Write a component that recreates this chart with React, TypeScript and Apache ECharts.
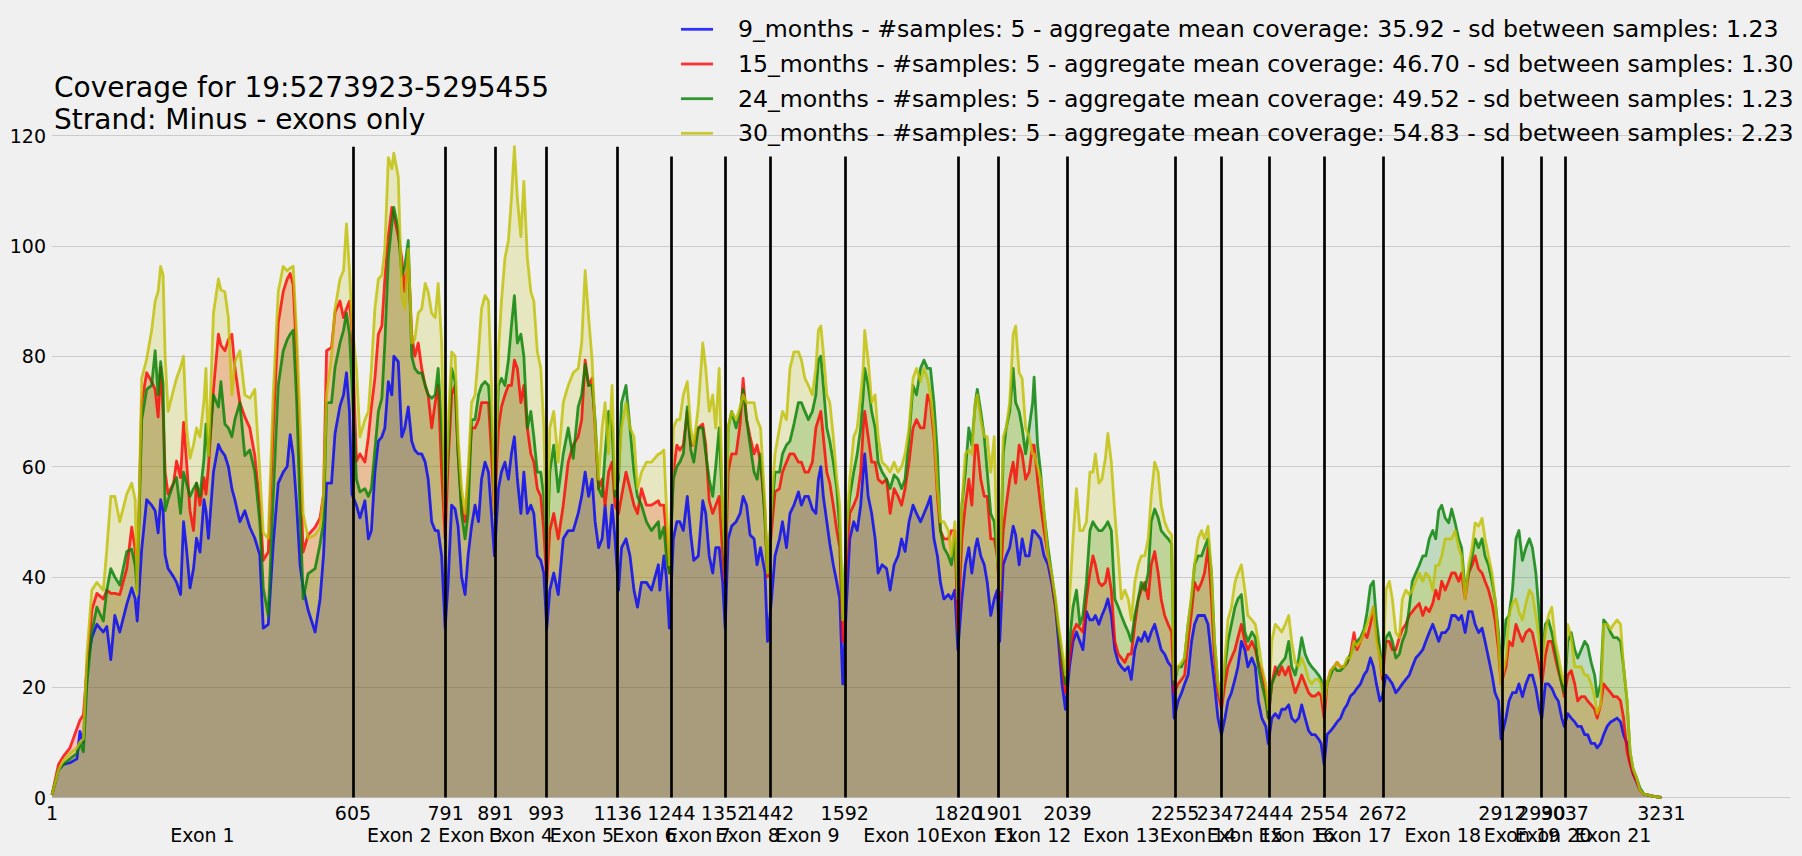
import React, { useEffect, useRef } from "react";
import * as echarts from "echarts";

// x positions (bp within the concatenated exons)
const positions: number[] = [
  1, 14, 24, 37, 51, 57, 64, 71, 81, 91, 104, 111, 119, 127, 137, 151, 161, 168, 172, 181,
  191, 201, 208, 214, 219, 224, 228, 234, 245, 251, 259, 265, 271, 278, 285, 291, 298, 306, 310, 315,
  325, 335, 340, 348, 355, 362, 368, 378, 388, 398, 408, 418, 425, 435, 445, 455, 465, 473, 479, 485,
  492, 499, 505, 515, 529, 539, 546, 552, 562, 569, 579, 586, 592, 598, 603,
  612, 619, 629, 636, 642, 649, 656, 663, 669, 676, 683, 687, 696, 703, 709, 716, 723, 729, 736, 743,
  750, 756, 763, 770, 776, 783, 790, 796, 803, 810, 816, 823, 830, 836, 843, 850, 857, 863, 870, 877,
  883, 889, 897, 903, 910, 917, 923, 929, 935, 942, 948, 955, 962, 968, 975, 982, 988, 994, 1000, 1008,
  1017, 1027, 1037, 1047, 1057, 1064, 1071, 1078, 1085, 1091, 1098, 1105, 1111, 1118, 1125, 1131, 1138, 1144, 1153, 1161,
  1169, 1176, 1184, 1194, 1204, 1218,
  1221, 1229, 1234, 1240, 1248, 1255, 1261, 1268, 1276, 1283, 1289, 1298, 1307, 1313, 1320, 1327, 1333, 1340, 1347, 1352,
  1358, 1365, 1374, 1382, 1388, 1395, 1402, 1410, 1416, 1423, 1432, 1437, 1445, 1452, 1461, 1467, 1475, 1482, 1490, 1499,
  1505, 1512, 1519, 1527, 1534, 1539, 1544, 1549, 1556, 1562, 1569, 1576, 1582, 1588, 1596, 1602, 1610, 1617, 1624, 1629,
  1632, 1639, 1646, 1653, 1659, 1667, 1676, 1683, 1691, 1699, 1706, 1713, 1721, 1729, 1736, 1744, 1751, 1758, 1764, 1771,
  1778, 1784, 1791, 1800, 1806,
  1813, 1819, 1827, 1834, 1841, 1847, 1854, 1858, 1865, 1872, 1878, 1885, 1892, 1898, 1903, 1910, 1916, 1923, 1930, 1935,
  1942, 1948, 1955, 1962, 1969, 1972, 1979, 1985, 1992, 2000, 2007, 2015, 2021, 2028, 2035, 2043, 2050, 2057, 2064, 2070,
  2077, 2084, 2090, 2095, 2102, 2108, 2115, 2120, 2127, 2134, 2141, 2147, 2154, 2161, 2167, 2174, 2181, 2187, 2194, 2201,
  2207, 2214, 2221, 2227, 2234, 2241, 2248, 2253, 2261, 2268, 2274, 2281, 2288, 2294, 2301, 2308, 2314, 2321, 2328, 2334,
  2341, 2348, 2355, 2361, 2368, 2375, 2381, 2388, 2395, 2401,
  2409, 2416, 2422, 2429, 2437, 2442, 2449, 2456, 2463, 2469, 2476, 2483, 2489, 2496, 2503, 2509, 2516, 2523, 2529, 2536,
  2543, 2548, 2554, 2560, 2567, 2574, 2580, 2587, 2594, 2600, 2607, 2614, 2620, 2627, 2634, 2640, 2647, 2653, 2659, 2666,
  2671, 2678, 2685, 2691, 2698, 2705, 2711, 2718, 2725, 2731, 2738, 2745, 2752, 2758, 2765, 2772, 2778, 2784, 2790, 2797,
  2804, 2810, 2817, 2824, 2830, 2837, 2844, 2851, 2857, 2864, 2871, 2877, 2884, 2891, 2897, 2904, 2909,
  2919, 2925, 2932, 2939, 2945, 2952, 2959, 2966, 2972, 2979, 2986, 2991, 2998, 3004, 3011, 3018, 3024, 3031, 3036, 3043,
  3050, 3057, 3063, 3070, 3077, 3083, 3090, 3097, 3102, 3109, 3115, 3122, 3129, 3135, 3142, 3149, 3155, 3162, 3168, 3174,
  3181, 3188, 3196, 3216, 3231,
];

const months9: number[] = [
  0.5, 5, 6, 6.3, 7, 12, 10, 24, 29, 31.4, 30, 31, 25, 33, 30, 35, 38, 36, 32, 45,
  54, 53, 52, 48, 54, 52, 44, 41.5, 40, 39, 36.8, 50, 45, 38, 41.5, 47, 44.5, 54, 52, 47,
  59, 64, 63, 62, 60, 56, 54, 50, 52, 49, 47, 44, 30.7, 31.4, 46, 57, 59, 60, 65.8, 62,
  53, 42, 38, 34, 30, 36, 44, 57, 57, 66, 71, 73, 77, 70, 55,
  53, 50.7, 53.8, 46.9, 48.4, 59, 64.6, 65.4, 67, 75.4, 73, 80, 79, 65.4, 67, 70.8, 64.6, 63, 62.3, 62.3,
  60.8, 57.7, 50, 48.4, 48.4, 43.8, 30.7, 39, 53, 52.3, 49.2, 40, 36.8, 43.8, 49.2, 53, 50, 57.7, 60.8, 59,
  51.5, 43.8, 56, 59, 60.8, 57.7, 62.3, 65.4, 57.7, 51.5, 59, 51.5, 53, 51.5, 43.8, 43, 40.7, 30.7, 37.6, 40.7,
  36.8, 46.9, 48.4, 48.4, 51.5, 54.6, 59, 54.6, 57.7, 50, 45.3, 46.9, 53, 45.3, 53, 46.9, 37.6, 45.3, 46.9, 43.8,
  37.6, 34.5, 39, 39, 37.6, 42.2,
  37.6, 43.8, 40, 30.7, 46.9, 50, 50, 48.4, 54.6, 47.6, 43, 43.8, 53.8, 51.5, 43.8, 40.7, 45.3, 45.3, 39, 30.7,
  46.9, 49.2, 50, 51.5, 54.6, 53, 47.6, 46.9, 42.2, 45.3, 40.7, 28.3, 36, 43.8, 46.9, 50, 45.3, 51.5, 53, 55.4,
  53, 54.6, 54.6, 52.3, 51.5, 57.7, 60, 54.6, 50, 46, 42.2, 39, 36, 20.6, 36, 46.9, 50, 48.4, 53, 59,
  62.3, 54.6, 51.5, 46.9, 40.7, 42.2, 41.5, 37.6, 42.2, 43.8, 46.9, 44.6, 50, 53, 51.5, 50, 51.5, 53, 54.6, 46.9,
  43.8, 39, 36, 36.8, 36,
  37.6, 26.8, 36, 42.2, 45.3, 40.7, 45.3, 46.9, 43.8, 42.2, 39, 33, 36, 37.6, 28.3, 42.2, 43.8, 45.3, 49.2, 47.6,
  42.2, 46.9, 43.8, 43.8, 48.4, 48.4, 47.6, 46.9, 43.8, 42.2, 39, 34.5, 28.3, 20.6, 16, 23.7, 28.3, 30, 28.3, 26.8,
  33.7, 32.2, 32.2, 33, 31.4, 33, 34.5, 36, 33, 26.8, 24.5, 23.7, 23, 23.7, 21.4, 26.8, 29, 28.3, 30, 28.3,
  30, 31.4, 29, 26.8, 26, 24.5, 23.7, 14.4, 17.5, 19, 20.6, 22.2, 28.3, 31.4, 33, 33, 33, 31.4, 25.3, 20.6,
  14.4, 11.4, 14.4, 17.5, 19, 21.4, 23.7, 28.3, 26.8, 23.7,
  25.3, 23.7, 17.5, 14.4, 12.9, 9.8, 14.4, 15.2, 14.4, 16, 16, 16.8, 14.4, 13.7, 14.4, 16.8, 14.4, 12.1, 11.4, 11.4,
  10.6, 9.8, 6, 11.4, 12.1, 12.9, 13.7, 14.4, 16, 16.8, 18.4, 19, 19.8, 20.6, 22.2, 23, 25.3, 23.7, 20.6, 17.5,
  18.4, 22.2, 21.4, 20.6, 19, 19.8, 20.6, 21.4, 22.2, 23.7, 25.3, 26, 26.8, 28.3, 29.9, 31.4, 29.9, 28.3, 29.9, 29.9,
  30.7, 33, 33, 32.2, 33, 29.9, 33.7, 33.7, 31.4, 29.9, 30.7, 28.3, 25.3, 22.2, 19, 17.5, 10.6,
  14.4, 17.5, 19, 19, 20.6, 18.3, 20.6, 22.2, 22.2, 19.8, 16, 14.4, 20.6, 20.6, 19.8, 18.3, 17.5, 14.4, 12.9, 15.2,
  14.4, 13.7, 12.9, 12.9, 11.4, 11.4, 9.8, 9.8, 9, 9.8, 11.4, 12.9, 13.7, 14, 14.4, 13.7, 11.4, 9.8, 6.7, 4.3,
  2.9, 1.3, 0.6, 0.2, 0,
];

const months15: number[] = [
  0.5, 6, 7.5, 9, 12.5, 14, 15, 23, 34, 37, 36, 37.6, 37, 37, 36.8, 41.5, 49, 45, 39, 71.6,
  77, 75.4, 74, 69, 78, 70, 59, 55, 57, 61, 58, 68, 61, 52, 48.4, 57, 53, 58, 55, 60,
  74, 84, 82, 81, 83, 84, 78, 71.6, 69, 67, 62, 53, 43, 44.5, 67, 86, 91.7, 94, 95, 93,
  80, 60, 44.5, 47.6, 49, 50.7, 55, 81, 81.6, 88, 90, 87, 88.6, 90, 85,
  61, 62.3, 60.8, 65.4, 70.8, 76, 84, 85.5, 94, 101.7, 107, 105.6, 101.7, 97.8, 91.7, 97.8, 84, 80, 82.4, 77.8,
  74.7, 73, 67, 71.6, 74.7, 59, 46.9, 60.8, 73, 74.7, 62.3, 53, 50, 57.7, 67, 67, 68.5, 71.6, 71.6, 71.6,
  62.3, 51.5, 67, 70.8, 73, 74.7, 74.7, 79.3, 77.8, 71.6, 74.7, 67, 62.3, 60.8, 56, 54.6, 48.4, 39, 48.4, 51.5,
  46.9, 53, 60.8, 63.9, 65.4, 68.5, 79.3, 74.7, 76, 67, 56, 57.7, 53, 59, 60.8, 53, 51.5, 54.6, 59, 56,
  53, 51.5, 56, 53, 53, 53.8,
  53, 53, 47.6, 40.7, 59, 63.9, 63, 63.9, 70, 63.9, 63.9, 67, 67.7, 63.9, 53.8, 51.5, 53, 54.6, 43.8, 39,
  59, 62.3, 62.3, 67.7, 76, 68.5, 65.4, 62.3, 63.9, 60.8, 51.5, 40, 48.4, 55.4, 56, 59, 60.8, 62.3, 62.3, 60.8,
  60.8, 59, 59, 60.8, 67, 68.5, 70, 65.4, 59, 57, 53, 48.4, 45.3, 28.3, 43.8, 51.5, 53, 54.6, 59, 67,
  70, 65.4, 60.8, 60.8, 57.7, 57, 57.7, 51.5, 56, 54.6, 53, 56, 60.8, 67, 68.5, 67, 67, 73, 71.6, 65.4,
  54.6, 48.4, 46.9, 46.9, 48.4,
  48.4, 30, 46.9, 53, 57.7, 53, 63.9, 63.9, 57.7, 54.6, 54.6, 46.9, 46.9, 43.8, 36, 48.4, 53, 57.7, 60.8, 57,
  63.9, 62.3, 57.7, 59, 63.9, 63.9, 57.7, 53, 48.4, 43.8, 40, 34.5, 30, 23.7, 19, 25.3, 30, 31.4, 30.7, 30,
  36, 40.7, 43.8, 42.2, 39, 38.4, 39, 41.5, 37.6, 28.3, 26, 25.3, 24.5, 26, 26, 31.4, 36, 37.6, 39, 36,
  42.2, 44.6, 40.7, 36, 33, 31.4, 30, 19, 20.6, 21.4, 22.2, 28.3, 33.7, 39, 37.6, 39, 40.7, 45.3, 36, 25.3,
  19, 16, 20.6, 23.7, 25.3, 26.8, 29, 31.4, 28.3, 26.8,
  28.3, 26.8, 24.5, 23, 19, 14.4, 20.6, 23.7, 22.2, 23.7, 22.2, 23.7, 21.4, 19, 20.6, 22.2, 20.6, 19, 18.4, 18.4,
  19, 18.4, 14.4, 20.6, 23, 23.7, 24.5, 23.7, 23.7, 24.5, 26, 29.9, 26.8, 28.3, 29.9, 29, 31.4, 34.5, 29.9, 25.3,
  21.4, 28.3, 28.3, 26.8, 26.8, 29, 30.5, 31.4, 33, 33.7, 34.5, 35.2, 33, 34.5, 33.7, 35.2, 37.6, 36, 39.2, 37.6,
  39.2, 40.7, 40.7, 39.2, 40.7, 36, 40.7, 42.1, 43.8, 41.4, 40.7, 39.2, 37.6, 35.2, 32.2, 26.8, 20.6,
  23.7, 28.3, 27.5, 31.4, 29.9, 28.3, 29.9, 30.5, 29.9, 26.8, 23.7, 20.6, 25.8, 28.3, 28.3, 25.3, 23, 20.6, 18.3, 22.2,
  23, 20.6, 17.5, 18.3, 18.3, 17.5, 16.8, 16, 14.4, 16.8, 20.6, 19.8, 19, 18.3, 18.3, 17.5, 14.4, 8.3, 6, 4.3,
  2.9, 1.3, 0.6, 0.2, 0,
];

const months24: number[] = [
  0.5, 5, 6, 7, 8, 10, 8.3, 20.6, 30, 34.5, 32, 37.6, 41.5, 40, 38.5, 44.6, 45, 42, 37.6, 68.5,
  74, 74.7, 81, 73, 79, 75, 52, 54, 57, 58, 51.5, 59, 57, 54.6, 56, 57, 54.6, 61.5, 67.7, 62,
  73, 70.8, 75.4, 67.7, 67, 65.4, 68.5, 71.6, 62, 63, 59, 50, 38, 33, 54.6, 74.7, 81, 83, 84, 84.7,
  72, 52, 36, 40.6, 41.5, 46, 50, 71.6, 71.6, 78, 82.4, 84.7, 87.8, 84, 75,
  57.7, 55.4, 56, 54.6, 56, 63, 70, 72.4, 82.4, 97.8, 104, 107, 103, 94.7, 96.3, 101, 80, 77.8, 77, 77,
  74.7, 73, 72.4, 73, 77.8, 67, 53, 63, 77.8, 75.4, 62.3, 51.5, 46.9, 51.5, 68.5, 68.5, 73, 74.7, 75.4, 74.7,
  67, 55.4, 74.7, 76, 74.7, 79.3, 85.5, 91, 82.4, 84, 80, 67, 70, 65.4, 59, 59, 54.6, 43.8, 59, 63.9,
  55.4, 62.3, 67, 61.5, 70.8, 73, 78.5, 74.7, 74.7, 68.5, 56, 54.6, 62.3, 70, 67, 54.6, 57.7, 71.6, 74.7, 67,
  59, 54.6, 53, 50, 48.4, 50,
  47, 49, 43.8, 40.7, 57.7, 60, 60.8, 62.3, 70.8, 63, 60.8, 67, 67, 62.3, 57.7, 54.6, 60, 67, 51.5, 40.7,
  67, 70, 67, 70, 74, 68.5, 63.9, 59, 57.7, 62.3, 50, 40.7, 51.5, 59, 59, 62.3, 63.9, 64.6, 67.7, 71.6,
  71.6, 70, 68.5, 70, 73, 79.3, 80, 74.7, 67, 64.6, 60.8, 56, 48.4, 32.2, 48.4, 54.6, 59, 62.3, 67, 73,
  77.8, 74.7, 70, 67, 60.8, 59, 57.7, 56, 58.5, 57.7, 56, 57.7, 65.4, 74.7, 73, 77.8, 79.3, 77.8, 77.8, 71.6,
  62.3, 48.4, 45.3, 43.8, 42.2,
  47, 36, 53, 59, 67, 63.9, 71.6, 74, 70, 65.4, 59, 51.5, 50, 43.8, 37.6, 62.3, 67, 70, 77.8, 71.6,
  70, 67, 62.3, 67, 71.6, 76.2, 63.9, 59, 51.5, 45.3, 40.7, 35.3, 30, 25.3, 20.6, 28.3, 34.5, 37.6, 31.4, 33,
  39, 48.4, 50, 49.2, 48.4, 48.4, 49.2, 50, 48.4, 36, 34.5, 33, 31.4, 30, 28.3, 33, 36, 39, 37.6, 40.7,
  50, 52.3, 50.7, 48.4, 47.6, 46.9, 46, 20.6, 23.7, 23.7, 25.3, 31.4, 36, 42.2, 43.8, 43.8, 45.3, 46.9, 40.7, 28.3,
  20.6, 17.5, 23.7, 28.3, 31.4, 34.5, 36, 36.8, 30, 28.3,
  30, 29, 23.7, 20.6, 17.5, 14.4, 20.6, 22.2, 23.7, 24.5, 25.3, 28.3, 23.7, 22.2, 25.3, 29, 26, 24.5, 23.7, 23,
  22.2, 21.4, 17.5, 20.6, 22.2, 23.7, 23, 23, 23.7, 24.5, 26, 27.5, 28.3, 29, 30.5, 33.5, 38.4, 39.2, 32.2, 26.8,
  23, 29, 29.9, 28.3, 25.3, 26, 28.3, 29.9, 34.5, 39.2, 40.7, 42.1, 43.8, 43.8, 46.9, 48.4, 46.9, 52, 53, 50.7,
  49.8, 52.3, 49.8, 46.9, 45.3, 37.6, 40.7, 43.8, 46.9, 45.3, 46.9, 43.8, 42.1, 39.2, 36, 29.9, 23.7,
  32.2, 33, 37.6, 46.9, 48.4, 43, 45.3, 46.9, 45.3, 40.7, 33, 25.3, 31.4, 32.2, 29.9, 26.8, 23.7, 20.6, 19, 28.3,
  29.9, 26.8, 25.3, 26.8, 28.3, 27.5, 24.5, 22.2, 18.3, 20.6, 32.2, 31.4, 29.9, 29, 29, 28.3, 23.7, 17.5, 8.3, 5.2,
  3.6, 1.7, 0.6, 0.2, 0,
];

const months30: number[] = [
  0.5, 5, 6.7, 8, 9, 10, 10.6, 26, 37.6, 39, 37.6, 45, 54.6, 54.6, 50, 55, 57, 54, 36.8, 76,
  79.5, 84.7, 90, 91.7, 96.3, 94.7, 80, 70, 74, 76, 78, 80, 67, 61.5, 64, 67, 65.4, 72, 77.8, 62,
  87.8, 94, 92, 91.7, 87, 73, 79, 81, 73, 72.4, 74, 59, 48, 47, 73, 91.7, 96.3, 95.5, 96, 96.3,
  84, 68, 51.5, 47, 47.6, 49, 55, 73, 80, 88.6, 94, 95.5, 104, 95.5, 86,
  77.8, 65.4, 68.5, 70, 77.8, 88.6, 94, 94.7, 99.4, 116, 114, 116.8, 112.5, 91, 88.6, 99.4, 82.4, 83, 87.8, 88.6,
  93.2, 91.7, 87.8, 87, 93.2, 82.4, 51.5, 67, 80.8, 80, 65.4, 56, 51.5, 59, 71.6, 73, 80.8, 88.6, 91, 90,
  74.7, 51.5, 80.8, 90, 97.8, 101, 108.6, 118, 108.6, 101.7, 111.7, 97.8, 91.7, 90, 80.8, 77.8, 67, 43.8, 67, 70,
  60.8, 71.6, 74.7, 77, 77.8, 82.4, 95.5, 87, 79.3, 67, 57.7, 67, 71.6, 62.3, 74.7, 56, 59, 67, 71.6, 67,
  65.4, 56, 59, 60.8, 60.8, 62.3,
  62.3, 63, 53, 42.2, 67, 68.5, 68.5, 73, 75.4, 67, 63.9, 70.8, 82.4, 77.8, 70, 73, 67, 77.8, 51.5, 43.8,
  67, 70, 68.5, 70.8, 73, 71.6, 71.6, 71.6, 68.5, 67, 53, 40.7, 53, 62.3, 67, 70, 68.5, 77.8, 80.8, 80.8,
  79.3, 76, 74.7, 73, 77.8, 84.7, 85.5, 80.8, 73, 71.6, 65.4, 57.7, 53, 32.2, 48.4, 57.7, 65.4, 67, 73, 77.8,
  84.7, 79.3, 71.6, 73, 65.4, 60.8, 60, 59, 60.8, 59, 60, 62.3, 67, 76, 77.8, 75.4, 77.8, 76, 73, 67,
  56, 50, 50, 48.4, 43.8,
  50, 36, 53, 62.3, 63, 62.3, 71.6, 73, 68.5, 65.4, 65.4, 59, 65.4, 43.8, 37.6, 65.4, 67, 71.6, 84, 85.5,
  77, 76, 67, 65.4, 62.3, 62.3, 60, 57.7, 51.5, 43.8, 40.7, 36, 31.4, 26.8, 22.2, 36, 46.9, 56, 48.4, 48.4,
  50, 59, 59, 62.3, 57, 57.7, 61.5, 66, 60.8, 51.5, 43.8, 36, 37.6, 36, 32.2, 39, 42.2, 43.8, 43.8, 46.9,
  54.6, 60.8, 59, 53, 50, 48.4, 47.6, 21.4, 23.7, 24.5, 25.3, 31.4, 36.8, 42.2, 46.9, 48.4, 46.9, 49.2, 40.7, 28.3,
  20.6, 17.5, 25.3, 32.2, 34.5, 39, 40.7, 42.2, 37.6, 33,
  32.2, 31.4, 28.3, 23.7, 20.6, 16, 28.3, 31.4, 30.7, 30, 31.4, 33, 28.3, 24.5, 23.7, 25.3, 23.7, 21.4, 20.6, 21.4,
  21.4, 20.6, 16.8, 20.6, 23, 23.7, 24.5, 23.7, 23.7, 25.3, 25.3, 28.3, 27.5, 28.3, 29.9, 31.4, 33, 34.5, 28.3, 25.3,
  22.2, 37.6, 39.2, 36, 29.9, 29, 36, 37.6, 36.8, 37.6, 39.2, 40.7, 39.2, 40.7, 40, 37.6, 42.1, 42.1, 43.8, 46.9,
  46.9, 46.9, 48.4, 45.3, 43.8, 36, 42.1, 45.3, 49.8, 49.2, 50.6, 46.9, 43.8, 40.7, 36, 28.3, 20.6,
  25.3, 33, 35.2, 36, 33.7, 32.2, 35.2, 37.6, 36.8, 33, 28.3, 23.7, 29.9, 33, 34.5, 28.3, 25.8, 22.2, 20.6, 31.4,
  29, 23.7, 23.7, 23.7, 22.2, 22.2, 20.6, 18.3, 15.2, 16.8, 31.4, 31.4, 30.5, 31.4, 32.2, 31.4, 23.7, 17.5, 8.3, 5.2,
  3.6, 1.3, 0.6, 0.2, 0,
];

const tickValues: number[] = [
  1, 605, 791, 891, 993, 1136, 1244, 1352, 1442, 1592, 1820, 1901, 2039, 2255, 2347, 2444, 2554, 2672, 2912, 2990, 3037, 3231,
];
const exonNames: string[] = [
  "Exon 1", "Exon 2", "Exon 3", "Exon 4", "Exon 5", "Exon 6", "Exon 7", "Exon 8", "Exon 9", "Exon 10", "Exon 11",
  "Exon 12", "Exon 13", "Exon 14", "Exon 15", "Exon 16", "Exon 17", "Exon 18", "Exon 19", "Exon 20", "Exon 21",
];
// top of each exon boundary line (coverage units), boundaries = tickValues without first/last
const boundaryTops: number[] = [
  118, 118, 118, 118, 118, 116.2, 116.2, 116.2, 116.2, 116.2, 116.2, 116.2, 116.2, 116.2, 116.2, 116.2, 116.2, 116.2, 116.2, 116.2,
];
const seriesLabels: string[] = [
  "9_months - #samples: 5 - aggregate mean coverage: 35.92 - sd between samples: 1.23",
  "15_months - #samples: 5 - aggregate mean coverage: 46.70 - sd between samples: 1.30",
  "24_months - #samples: 5 - aggregate mean coverage: 49.52 - sd between samples: 1.23",
  "30_months - #samples: 5 - aggregate mean coverage: 54.83 - sd between samples: 2.23",
];
const titleLines: string[] = ["Coverage for 19:5273923-5295455", "Strand: Minus - exons only"];

const FONT = "DejaVu Sans";
const baseRGB = ["0,0,255", "255,0,0", "0,128,0", "191,191,0"];

export default function App() {
  const ref = useRef<HTMLDivElement>(null);
  useEffect(() => {
    document.body.style.margin = "0";
    document.body.style.background = "#f0f0f0";
    const chart = echarts.init(ref.current!, null, { renderer: "svg" });
    const allSeries = [months9, months15, months24, months30];
    const toData = (arr: number[]) => {
      const n = Math.min(arr.length, positions.length);
      const out: number[][] = [];
      for (let i = 0; i < n; i++) out.push([positions[i], arr[i]]);
      return out;
    };
    const boundaries = tickValues.slice(1, -1);
    const exonMids = tickValues.slice(0, -1).map((t, i) => (t + tickValues[i + 1]) / 2);
    // split exon labels on two overlaid axes (odd / even exons) so ECharts never drops overlapping ones
    const oddMids = exonMids.filter((_, i) => i % 2 === 0);
    const evenMids = exonMids.filter((_, i) => i % 2 === 1);
    const exonFormatter = (v: number) => {
      const idx = exonMids.findIndex((m) => Math.abs(m - v) < 0.6);
      return idx >= 0 ? exonNames[idx] : "";
    };
    const labelBase = {
      showMinLabel: true,
      showMaxLabel: true,
      hideOverlap: false,
      color: "#000",
      fontSize: 19,
      fontFamily: FONT,
      margin: 6,
    };
    const exonAxis = (mids: number[]) => ({
      type: "value",
      min: 1,
      max: 3490,
      position: "bottom",
      offset: 22,
      axisLine: { show: false },
      axisTick: { show: false },
      splitLine: { show: false },
      axisLabel: { ...labelBase, customValues: mids, formatter: exonFormatter },
    });

    const fillSeries = allSeries.map((arr, i) => ({
      type: "line",
      name: seriesLabels[i] + " fill",
      data: toData(arr),
      showSymbol: false,
      silent: true,
      lineStyle: { width: 0, opacity: 0 },
      areaStyle: { color: `rgba(${baseRGB[i]},0.2)`, opacity: 1 },
      emphasis: { disabled: true },
      z: 2,
    }));
    const lineSeries = allSeries.map((arr, i) => ({
      type: "line",
      name: seriesLabels[i],
      data: toData(arr),
      showSymbol: false,
      silent: true,
      lineStyle: { width: 2.8, color: `rgba(${baseRGB[i]},0.8)`, join: "round" },
      emphasis: { disabled: true },
      z: 3,
    }));
    const vlineSeries = {
      type: "line",
      name: "exon boundaries",
      data: [],
      silent: true,
      z: 5,
      markLine: {
        silent: true,
        symbol: ["none", "none"],
        label: { show: false },
        emphasis: { disabled: true },
        lineStyle: { color: "#000", width: 2.7, type: "solid", opacity: 1 },
        data: boundaries.map((b, i) => [{ coord: [b, 0] }, { coord: [b, boundaryTops[i]] }]),
      },
    };

    const legendGraphics: any[] = [];
    const rowY = [29.3, 64, 98.7, 133.3];
    seriesLabels.forEach((label, i) => {
      legendGraphics.push({
        type: "line",
        silent: true,
        shape: { x1: 681, y1: rowY[i], x2: 713, y2: rowY[i] },
        style: { stroke: `rgba(${baseRGB[i]},0.8)`, lineWidth: 2.8 },
        z: 10,
      });
      legendGraphics.push({
        type: "text",
        silent: true,
        x: 738,
        y: rowY[i],
        style: { text: label, fill: "#000", font: `23.6px '${FONT}'`, verticalAlign: "middle", align: "left" },
        z: 10,
      });
    });
    const titleGraphics = titleLines.map((t, i) => ({
      type: "text",
      silent: true,
      x: 54,
      y: 87.5 + i * 32.4,
      style: { text: t, fill: "#000", font: `28px '${FONT}'`, verticalAlign: "middle", align: "left" },
      z: 10,
    }));

    const option: any = {
      animation: false,
      backgroundColor: "#f0f0f0",
      textStyle: { fontFamily: FONT },
      grid: { left: 52, right: 11.5, top: 135.6, bottom: 58.5, containLabel: false },
      xAxis: [
        {
          type: "value",
          min: 1,
          max: 3490,
          axisLine: { show: false },
          axisTick: { show: false },
          splitLine: { show: false },
          axisLabel: { ...labelBase, customValues: tickValues, formatter: (v: number) => String(v) },
        },
        exonAxis(oddMids),
        exonAxis(evenMids),
      ],
      yAxis: {
        type: "value",
        min: 0,
        max: 120,
        interval: 20,
        axisLine: { show: false },
        axisTick: { show: false },
        splitLine: { lineStyle: { color: "#cbcbcb", width: 1.2 } },
        axisLabel: { color: "#000", fontSize: 19, fontFamily: FONT, margin: 6, showMinLabel: true, showMaxLabel: true },
      },
      series: [...fillSeries, ...lineSeries, vlineSeries],
      graphic: [...titleGraphics, ...legendGraphics],
    };
    chart.setOption(option);
    return () => chart.dispose();
  }, []);
  return (
    <div
      ref={ref}
      style={{ position: "fixed", left: 0, top: 0, width: 1802, height: 856, background: "#f0f0f0" }}
    />
  );
}
